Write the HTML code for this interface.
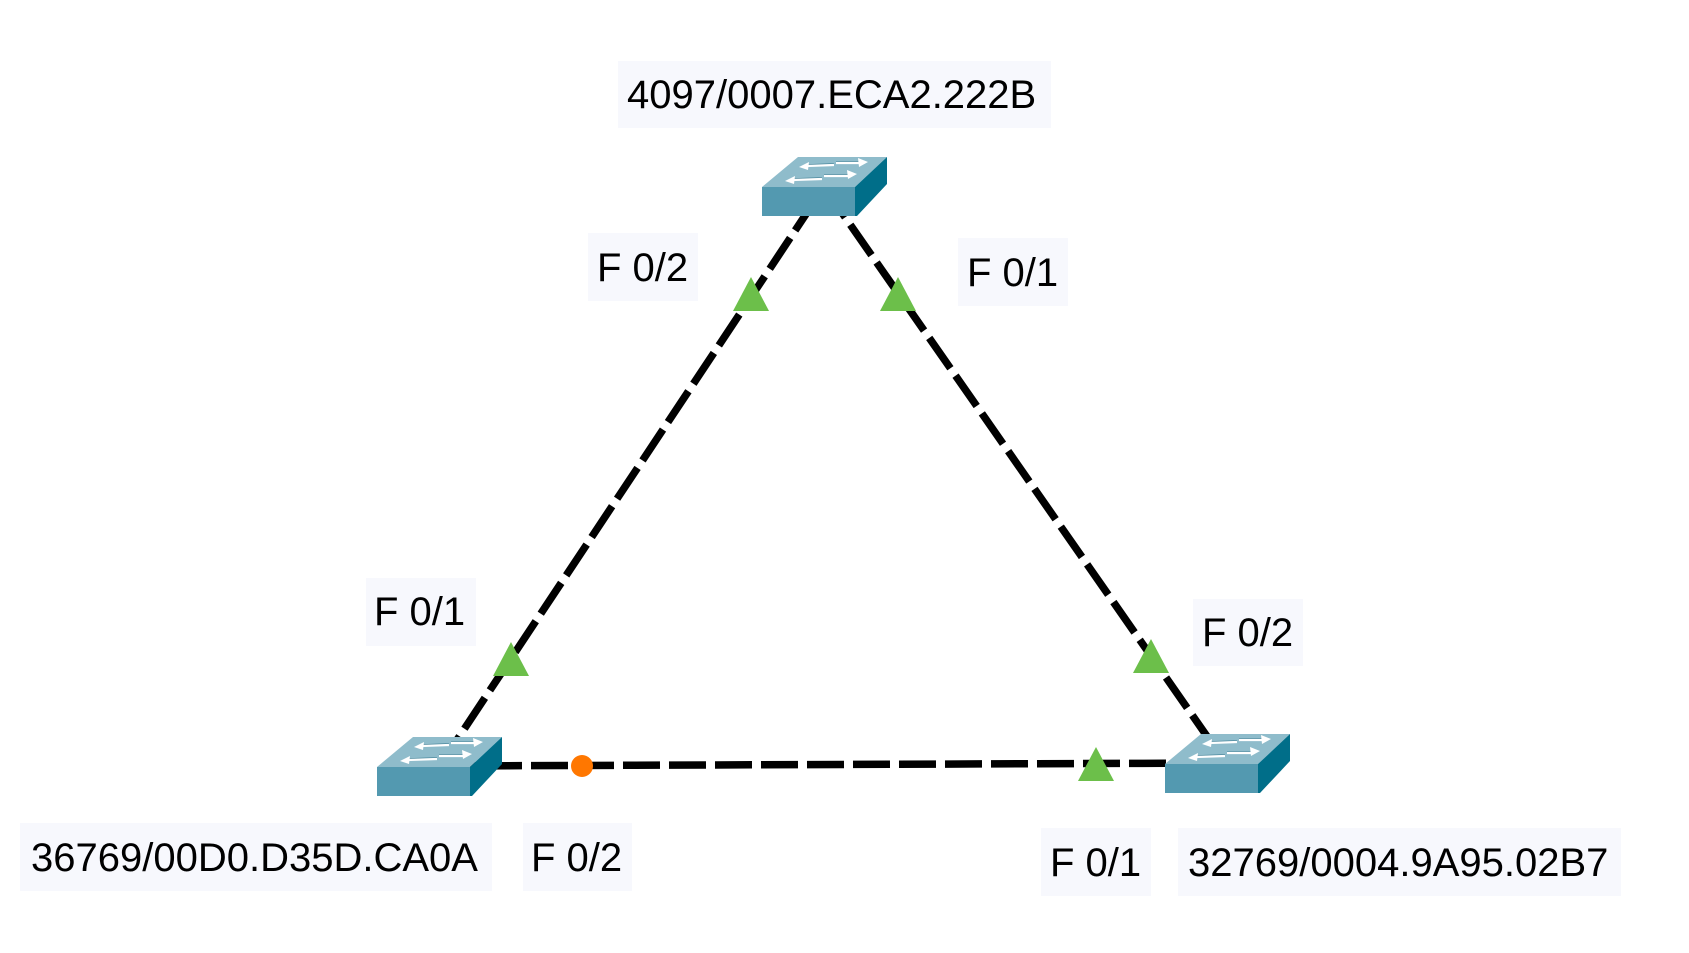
<!DOCTYPE html>
<html>
<head>
<meta charset="utf-8">
<style>
html,body{margin:0;padding:0;background:#ffffff;}
body{width:1689px;height:953px;overflow:hidden;}
svg{display:block;}
text{font-family:"Liberation Sans",Arial,sans-serif;font-size:40px;fill:#000;}
</style>
</head>
<body>
<svg width="1689" height="953" viewBox="0 0 1689 953" xmlns="http://www.w3.org/2000/svg">
<defs>
  <g id="sw">
    <polygon points="0,0 36,-30 125,-30 93,0" fill="#8fbccb"/>
    <rect x="0" y="0" width="94" height="29" fill="#5399b0"/>
    <polygon points="93,0 125,-30 125,-3 95,29 93,29" fill="#006e89"/>
    <!-- arrows -->
    <line x1="44" y1="-22" x2="72" y2="-23" stroke="#3f7f95" stroke-width="1.5"/>
    <line x1="44" y1="-21" x2="72" y2="-22" stroke="#ffffff" stroke-width="2.2"/>
    <polygon points="37,-20 47,-25 46,-17" fill="#ffffff"/>
    <line x1="74" y1="-25" x2="99" y2="-25" stroke="#3f7f95" stroke-width="1.5"/>
    <line x1="74" y1="-24" x2="99" y2="-24" stroke="#ffffff" stroke-width="2.2"/>
    <polygon points="106,-25 96,-29 97,-20" fill="#ffffff"/>
    <line x1="30" y1="-8" x2="60" y2="-9" stroke="#3f7f95" stroke-width="1.5"/>
    <line x1="30" y1="-7" x2="60" y2="-8" stroke="#ffffff" stroke-width="2.2"/>
    <polygon points="23,-6 33,-11 32,-3" fill="#ffffff"/>
    <line x1="62" y1="-12" x2="88" y2="-12" stroke="#3f7f95" stroke-width="1.5"/>
    <line x1="62" y1="-11" x2="88" y2="-11" stroke="#ffffff" stroke-width="2.2"/>
    <polygon points="95,-13 85,-17 86,-8" fill="#ffffff"/>
  </g>
</defs>

<!-- links -->
<g stroke="#000" stroke-width="7.5" stroke-dasharray="37 9" fill="none">
  <line x1="439" y1="767" x2="824" y2="187"/>
  <line x1="824" y1="187" x2="1227" y2="765"/>
  <line x1="439" y1="766" x2="1227" y2="763"/>
</g>

<!-- switches -->
<use href="#sw" x="762" y="187"/>
<use href="#sw" x="377" y="767"/>
<use href="#sw" x="1165" y="764"/>

<!-- link status indicators -->
<g fill="#6cbf4a">
  <polygon points="751,277 733,311 769,311"/>
  <polygon points="898,277 880,311 916,311"/>
  <polygon points="511,642 493,676 529,676"/>
  <polygon points="1151,639 1133,673 1169,673"/>
  <polygon points="1096,747 1078,781 1114,781"/>
</g>
<circle cx="582" cy="766" r="11" fill="#ff7700"/>

<!-- labels -->
<g fill="#f7f8fd">
  <rect x="618" y="61" width="433" height="67"/>
  <rect x="588" y="233" width="110" height="68"/>
  <rect x="958" y="238" width="110" height="68"/>
  <rect x="366" y="578" width="110" height="68"/>
  <rect x="1193" y="599" width="110" height="67"/>
  <rect x="20" y="823" width="472" height="68"/>
  <rect x="523" y="823" width="109" height="68"/>
  <rect x="1041" y="828" width="110" height="68"/>
  <rect x="1178" y="828" width="443" height="68"/>
</g>
<text x="627" y="108">4097/0007.ECA2.222B</text>
<text x="597" y="281">F 0/2</text>
<text x="967" y="286">F 0/1</text>
<text x="374" y="625">F 0/1</text>
<text x="1202" y="646">F 0/2</text>
<text x="31" y="871">36769/00D0.D35D.CA0A</text>
<text x="531" y="871">F 0/2</text>
<text x="1050" y="876">F 0/1</text>
<text x="1188" y="876">32769/0004.9A95.02B7</text>
</svg>
</body>
</html>
